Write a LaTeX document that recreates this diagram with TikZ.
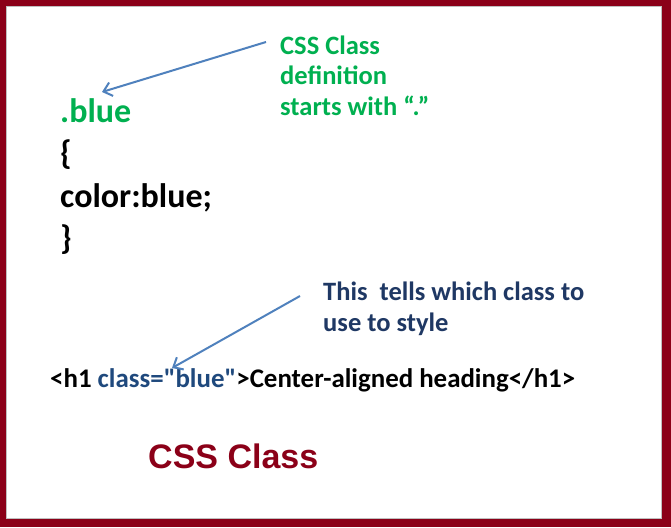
\documentclass[tikz,border=0pt]{standalone}
\usepackage{fontspec}
\setmainfont{Carlito}[Ligatures=TeXOff]
\newfontfamily\arialfont{Liberation Sans}
\usetikzlibrary{positioning, arrows.meta}
\usepackage{xcolor}
\definecolor{frame}{HTML}{8B0018}
\definecolor{codegreen}{HTML}{00B050}
\definecolor{notenavy}{HTML}{1F3864}
\definecolor{attrblue}{HTML}{1F497D}
\definecolor{arrowblue}{HTML}{4F81BD}

\begin{document}
\begin{tikzpicture}[
    x=1pt, y=-1pt,
    every node/.style={anchor=base west, inner sep=0pt, font=\bfseries},
    code/.style={font=\bfseries\fontsize{34}{40}\selectfont},
    note/.style={align=left, font=\bfseries\fontsize{26.5}{30.5}\selectfont},
    pointer/.style={draw=arrowblue, line width=2pt, -{Straight Barb[length=8pt, width=14pt]}}
]

    % Frame
    \fill[frame] (0,0) rectangle (671,527);
    \fill[white] (6,6) rectangle (662,519);
    \draw[gray!50, line width=0.6pt] (6.3,6.3) rectangle (661.7,518.7);

    % CSS rule
    \node (sel) at (60,122) [code, text=codegreen] {.blue};
    \node (open) at (60,164) [code] {\{};
    \node (decl) at (60,207) [code] {color:blue;};
    \node (close) at (60,249) [code] {\}};

    % Note on the selector (base = last line)
    \node (note1) at (280,115) [note, text=codegreen] {CSS Class\\definition\\starts with “.”};

    % Note on the attribute (base = last line)
    \node (note2) at (323,331) [note, text=notenavy] {This~~tells which class to\\use to style};

    % HTML line
    \node (html) at (50,387) [font=\bfseries\fontsize{26.9}{30}\selectfont] {<h1 \textcolor{attrblue}{class="blue"}>Center-aligned heading</h1>};

    % Caption
    \node (title) at (148,468) [text=frame, font=\arialfont\bfseries\fontsize{34}{40}\selectfont] {CSS Class};

    % Arrow ends
    \coordinate (tail1) at (266,42);
    \coordinate (tip1) at (102,92);
    \coordinate (tail2) at (300,296);
    \coordinate (tip2) at (172,368);
    \draw[pointer] (tail1) -- (tip1);
    \draw[pointer] (tail2) -- (tip2);
\end{tikzpicture}
\end{document}
